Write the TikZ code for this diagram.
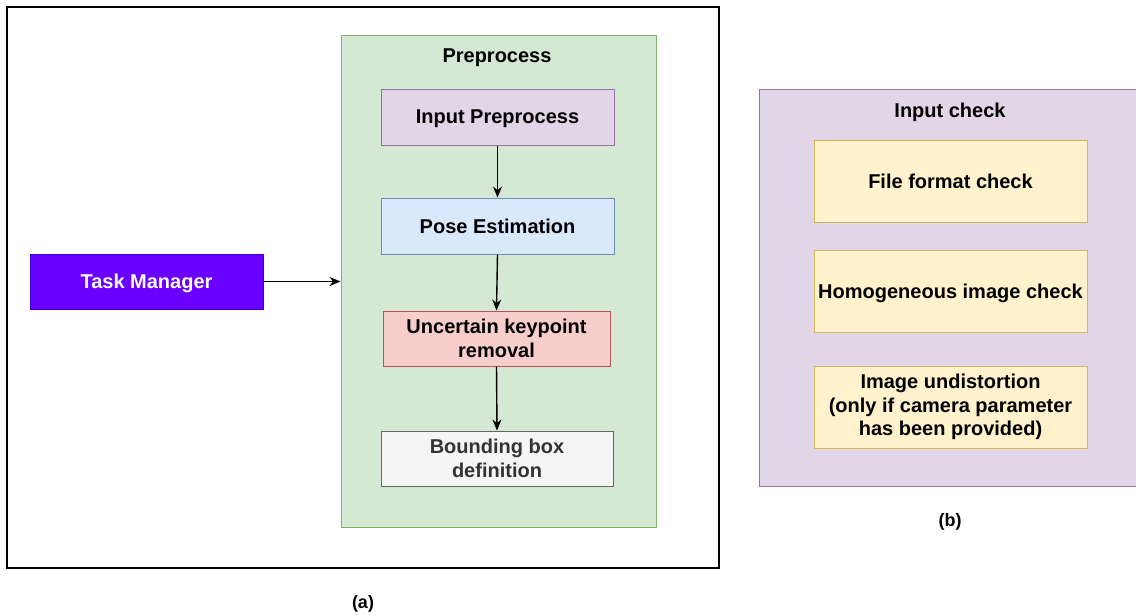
\documentclass[tikz,border=0pt]{standalone}
\usepackage{fontspec}
\setmainfont{Liberation Sans}
\usetikzlibrary{arrows.meta}
\definecolor{grnfill}{HTML}{D5E8D4}\definecolor{grnline}{HTML}{82B366}
\definecolor{purfill}{HTML}{E1D5E7}\definecolor{purline}{HTML}{9673A6}
\definecolor{blufill}{HTML}{DAE8FC}\definecolor{bluline}{HTML}{6C8EBF}
\definecolor{redfill}{HTML}{F8CECC}\definecolor{redline}{HTML}{B85450}
\definecolor{gryfill}{HTML}{F5F5F5}\definecolor{gryline}{HTML}{666666}
\definecolor{gryText}{HTML}{333333}
\definecolor{yelfill}{HTML}{FFF2CC}\definecolor{yelline}{HTML}{D6B656}
\definecolor{tmfill}{HTML}{6A00FF}\definecolor{tmline}{HTML}{3700CC}
\tikzset{
  lbl/.style={font=\fontsize{20}{23.5}\selectfont\bfseries, align=center, inner sep=0pt},
  oneline/.style={text depth=0pt},
  blk/.style={lbl, draw, line width=1pt, minimum width=233pt, minimum height=56pt},
  chk/.style={lbl, draw=yelline, fill=yelfill, line width=1pt, minimum width=273pt, minimum height=82pt},
  arr/.style={-{Stealth[length=11pt,width=9pt]}, line width=1.4pt, black},
  subcap/.style={font=\fontsize{18}{22}\selectfont\bfseries, inner sep=0pt, text depth=0pt}
}
\begin{document}
\begin{tikzpicture}[x=1pt,y=-1pt]
\useasboundingbox (0,0) rectangle (1136,614);
\fill[white] (0,0) rectangle (1136,614);

% panel (a)
\draw[line width=1.5pt] (7,7) rectangle (719,568);
\node[draw=grnline, fill=grnfill, line width=1pt, minimum width=315pt, minimum height=492pt, inner sep=0pt]
  (pre) at (498.5,281) {};
\node[lbl, oneline] (pretitle) at (497,56) {Preprocess};

\node[blk, oneline, draw=purline, fill=purfill] (inp) at (497.5,117) {Input Preprocess};
\node[blk, oneline, draw=bluline, fill=blufill] (pose) at (497.5,226) {Pose Estimation};
\node[blk, draw=redline, fill=redfill, minimum width=227pt, minimum height=55pt] (unc) at (496.5,338.5)
  {Uncertain keypoint\\removal};
\node[blk, draw=gryline, fill=gryfill, text=gryText, minimum width=232pt, minimum height=55pt] (bbox) at (497,458.5)
  {Bounding box\\definition};

\node[blk, oneline, draw=tmline, fill=tmfill, text=white, minimum height=55pt] (tm) at (146.5,281.5) {Task Manager};

\draw[arr] (tm.east) -- (tm.east -| pre.west);
\draw[arr] (inp.south) -- (pose.north);
\draw[arr] (pose.south) -- (unc.north);
\draw[arr] (unc.south) -- (bbox.north);

\node[subcap] (capa) at (363,602) {(a)};

% panel (b)
\draw[draw=purline, fill=purfill, line width=1pt] (759,89) rectangle (1142,486);
\node[lbl, oneline] (chktitle) at (950,110) {Input check};
\node[chk, oneline] (ffc) at (950.5,181.5) {File format check};
\node[chk, oneline] (hic) at (950.5,291) {Homogeneous image check};
\node[chk] (und) at (950.5,407) {Image undistortion\\(only if camera parameter\\has been provided)};

\node[subcap] (capb) at (950,520) {(b)};
\end{tikzpicture}
\end{document}
